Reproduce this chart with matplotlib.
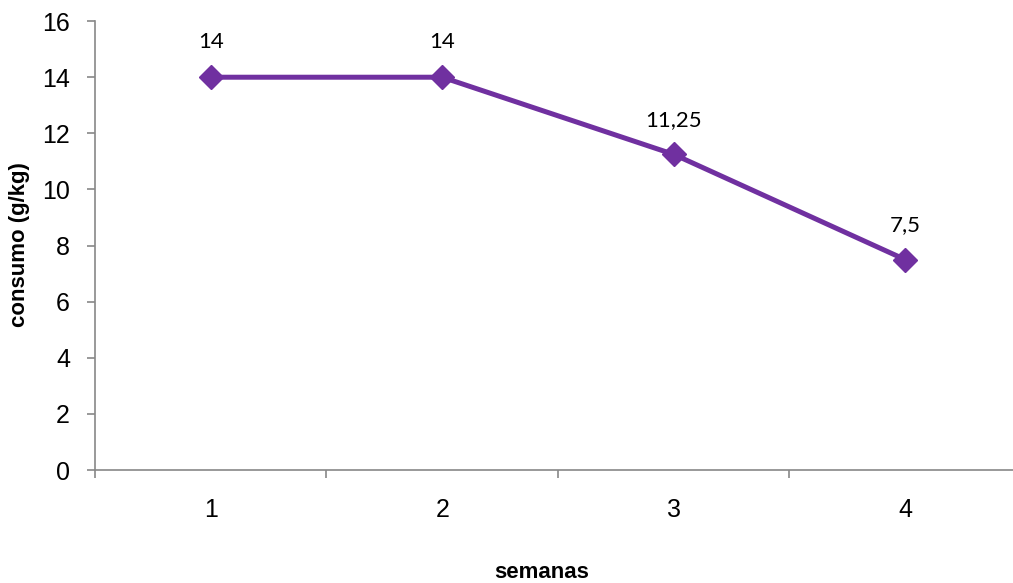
import matplotlib.pyplot as plt

semanas = ['1', '2', '3', '4']
consumo = [14, 14, 11.25, 7.5]
rotulos = ['14', '14', '11,25', '7,5']

plt.rcParams['font.family'] = ['Liberation Sans', 'DejaVu Sans']

fig = plt.figure(figsize=(10.13, 5.83), dpi=100)
ax = fig.add_axes([0.0938, 0.1938, 0.914, 0.770])

x = list(range(len(semanas)))
ax.plot(x, consumo, color='#7030A0', linewidth=3.6, marker='D', markersize=12,
        zorder=3, clip_on=False)

# rótulos de dados acima de cada ponto
for xi, yi, txt in zip(x, consumo, rotulos):
    ax.annotate(txt, (xi, yi), xytext=(0, 25), textcoords='offset points',
                ha='center', va='center', fontsize=16, family='Lato')

ax.set_xlim(-0.5, len(semanas) - 0.5)
ax.set_ylim(0, 16)
ax.set_yticks(range(0, 17, 2))

# categorias no meio, marcas de divisão entre elas
ax.set_xticks(x)
ax.set_xticklabels(semanas, fontsize=18)
ax.set_xticks([i - 0.5 for i in range(len(semanas) + 1)], minor=True)
ax.tick_params(axis='x', which='major', length=0, pad=20)
ax.tick_params(axis='x', which='minor', length=6, width=1.2, color='#888888', direction='out')
ax.tick_params(axis='y', length=6, width=1.2, color='#888888', labelsize=18, pad=12)

for side in ['top', 'right']:
    ax.spines[side].set_visible(False)
for side in ['left', 'bottom']:
    ax.spines[side].set_color('#888888')
    ax.spines[side].set_linewidth(1.2)

fig.text(542 / 1013, 1 - 573 / 583, 'semanas', fontsize=16, fontweight='bold',
         ha='center', va='center')
fig.text(20 / 1013, 1 - 245 / 583, 'consumo (g/kg)', fontsize=16, fontweight='bold',
         ha='center', va='center', rotation=90)

fig.savefig('out.png', dpi=100)
